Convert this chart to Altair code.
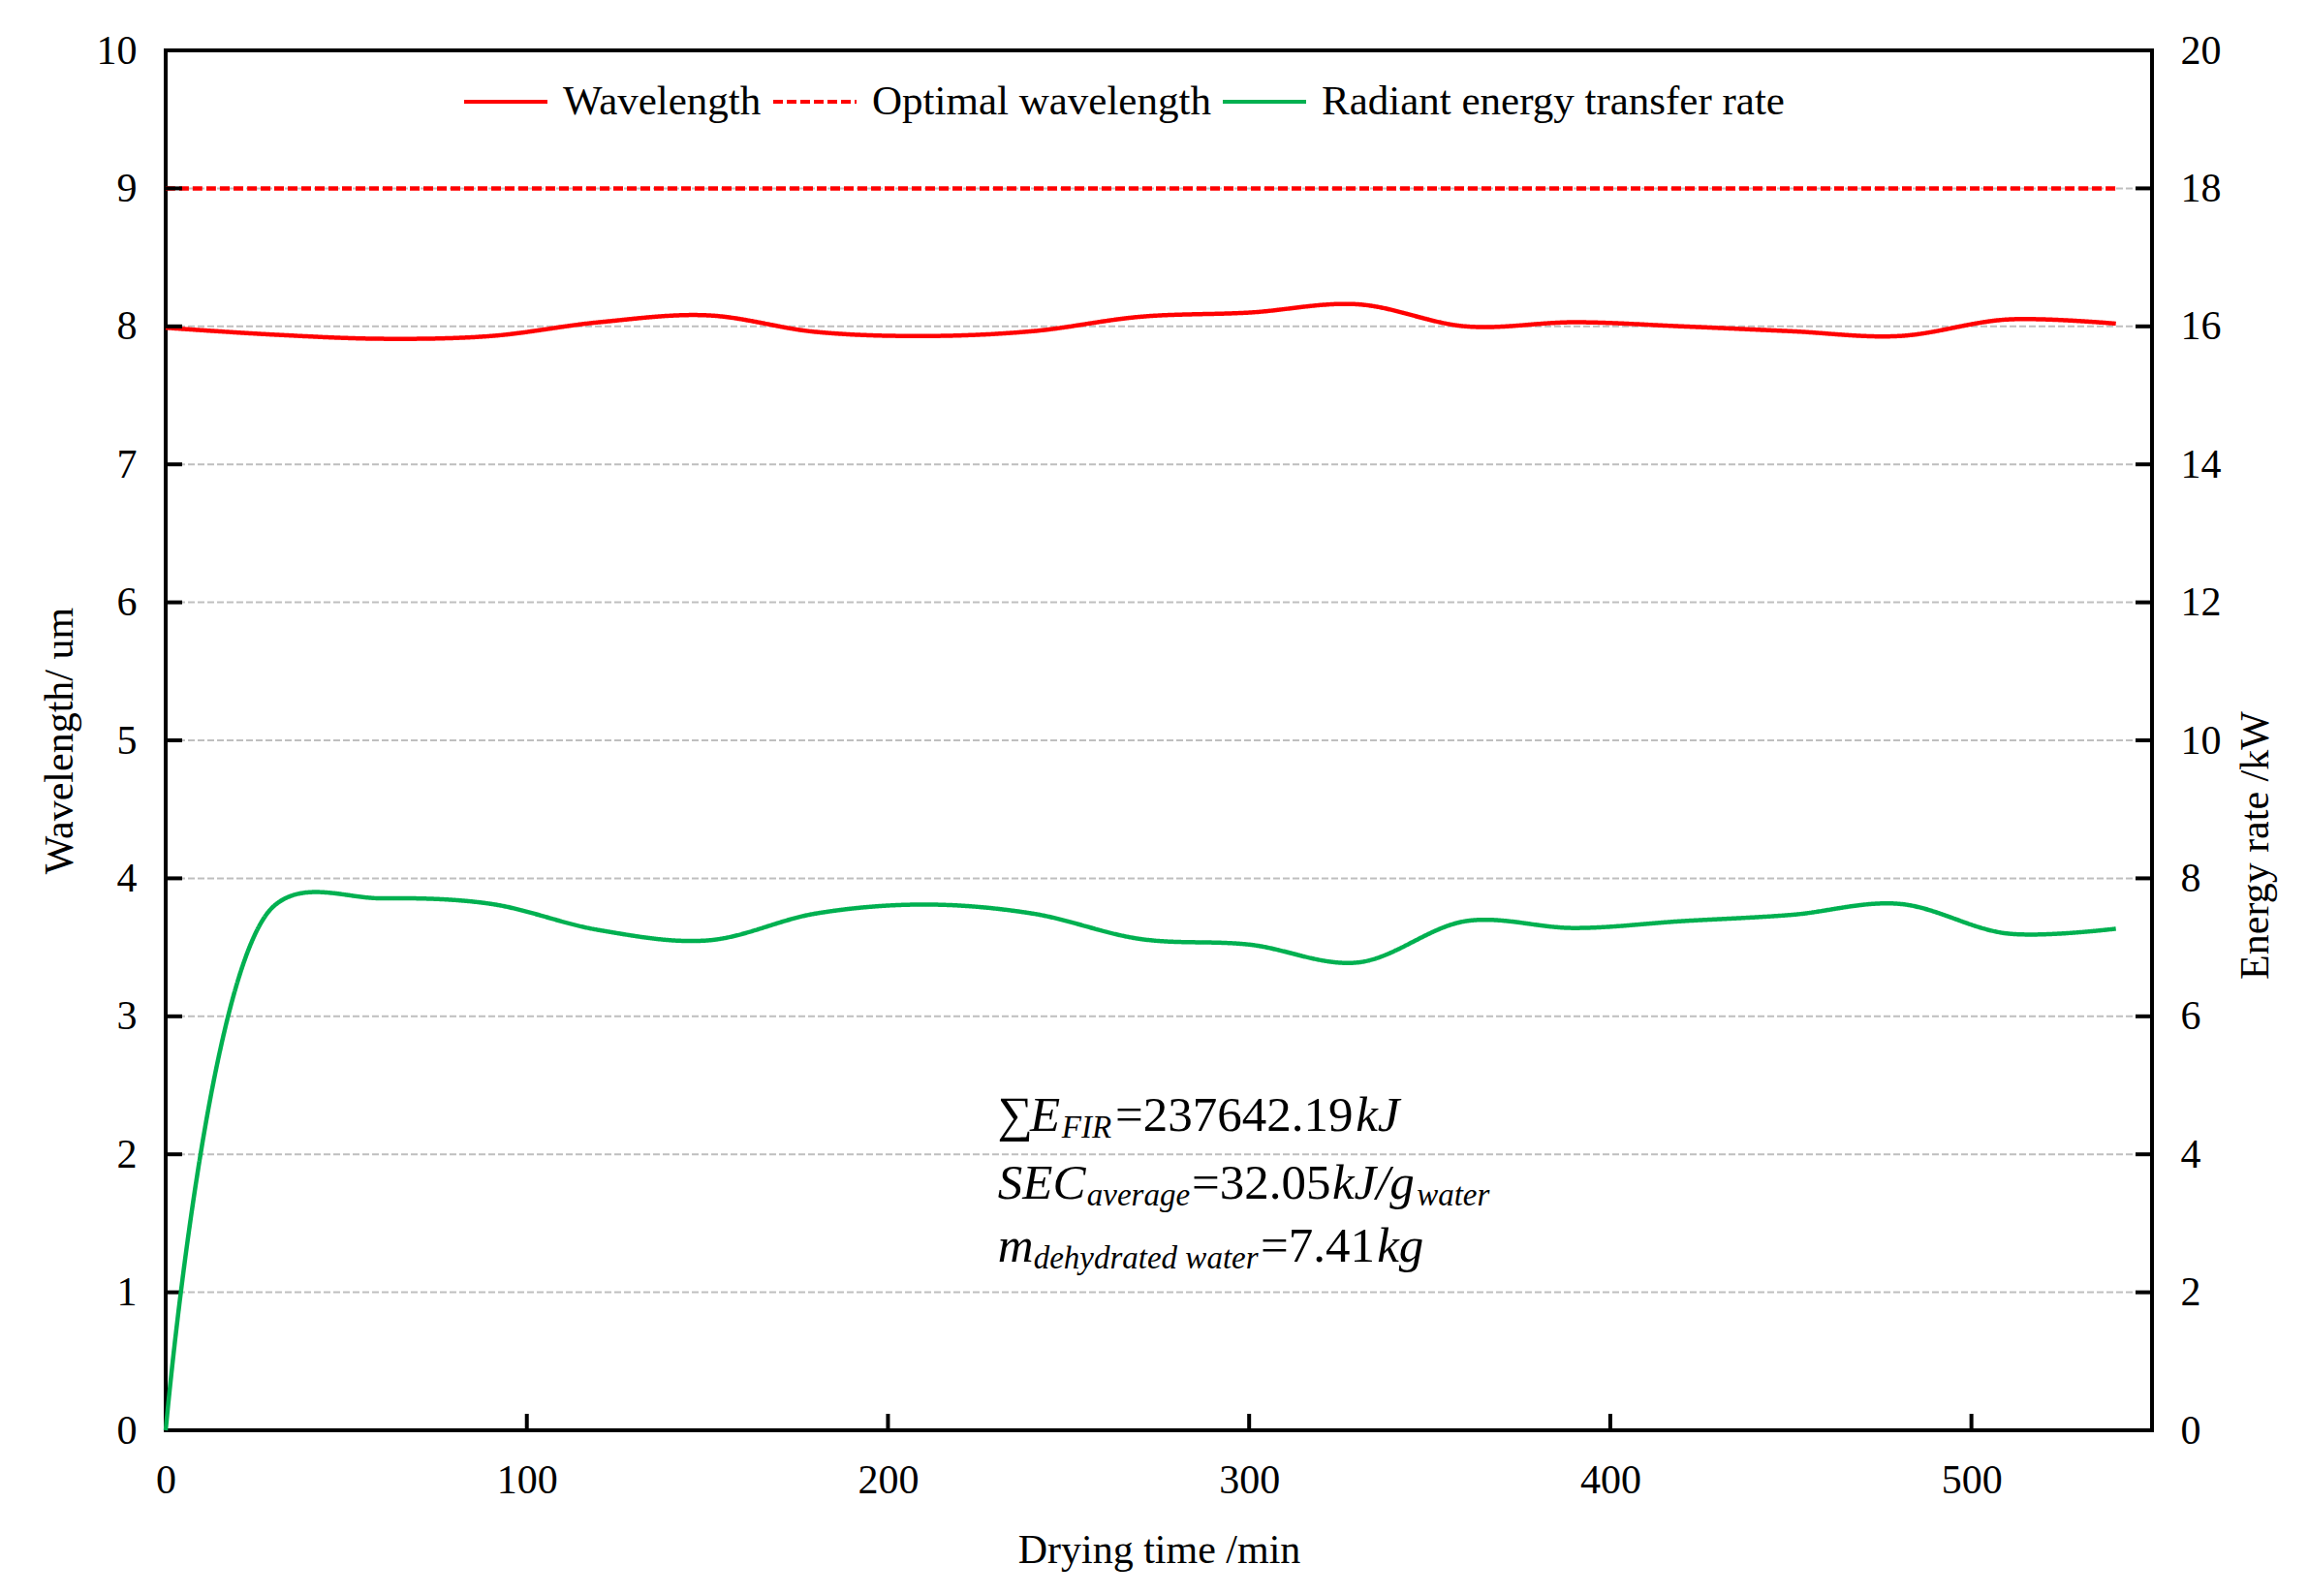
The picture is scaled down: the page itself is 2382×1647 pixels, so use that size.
import altair as alt
import pandas as pd

# ---------------- data ----------------
time_min = [0, 30, 60, 90, 120, 150, 180, 210, 240, 270, 300, 330, 360, 390, 420, 450, 480, 510, 540]
wavelength = [7.99, 7.94, 7.91, 7.93, 8.03, 8.08, 7.96, 7.93, 7.965, 8.07, 8.10, 8.16, 8.00, 8.03, 8.00, 7.965, 7.93, 8.05, 8.02]
optimal_wavelength = [9.0, 9.0, 9.0, 9.0, 9.0, 9.0, 9.0, 9.0, 9.0, 9.0, 9.0, 9.0, 9.0, 9.0, 9.0, 9.0, 9.0, 9.0, 9.0]
energy_rate = [0.0, 7.60, 7.71, 7.63, 7.25, 7.10, 7.49, 7.62, 7.49, 7.12, 7.04, 6.78, 7.38, 7.28, 7.38, 7.47, 7.63, 7.20, 7.27]

series_names = ["Wavelength", "Optimal wavelength", "Radiant energy transfer rate"]
series_colors = ["#FF0000", "#FF0000", "#00B050"]

x_ticks = [0, 100, 200, 300, 400, 500]
left_ticks = [0, 1, 2, 3, 4, 5, 6, 7, 8, 9, 10]
right_ticks = [0, 2, 4, 6, 8, 10, 12, 14, 16, 18, 20]
grid_values = [1, 2, 3, 4, 5, 6, 7, 8, 9]

# annotation runs: text, italic?, subscript?
note_runs = [
    [("∑", False, False), ("E", True, False), ("FIR", True, True), ("=237642.19", False, False), ("kJ", True, False)],
    [("SEC", True, False), ("average", True, True), ("=32.05", False, False), ("kJ/g", True, False), ("water", True, True)],
    [("m", True, False), ("dehydrated water", True, True), ("=7.41", False, False), ("kg", True, False)],
]
# start positions (minutes) of each run and baselines (wavelength units) of each line
note_starts = [
    [230.4, 239.3, 248.1, 262.9, 329.5],
    [230.4, 255.1, 284.1, 323.0, 346.4],
    [230.4, 240.3, 303.2, 335.4],
]
note_baselines = [2.168, 1.68, 1.224]

# ---------------- layout ----------------
W, H = 2050, 1424
SERIF = "Liberation Serif"
TICK = 17

wl_df = pd.DataFrame({
    "t": time_min * 2,
    "v": wavelength + optimal_wavelength,
    "series": ["Wavelength"] * len(time_min) + ["Optimal wavelength"] * len(time_min),
})
en_df = pd.DataFrame({"t": time_min, "e": energy_rate, "series": ["Radiant energy transfer rate"] * len(time_min)})

rows = []
for line, starts, base in zip(note_runs, note_starts, note_baselines):
    for (txt, ital, sub), xs in zip(line, starts):
        rows.append({"t": xs, "v": base - (0.05 if sub else 0.0), "txt": txt,
                     "fs": 33 if sub else 51, "ital": ital})
note_df = pd.DataFrame(rows)

x_scale = alt.Scale(domain=[0, 550], nice=False, zero=True)
x_axis = alt.Axis(values=x_ticks, title="Drying time /min", grid=False, labelFlush=False,
                  labelPadding=31, titleY=123, titleBaseline="middle")
yl_scale = alt.Scale(domain=[0, 10], nice=False)
yl_axis = alt.Axis(values=left_ticks, grid=False, title="Wavelength/ um",
                   labelPadding=30, titleAngle=270, titleX=-110, titleY=H / 2,
                   titleBaseline="middle", titleAlign="center")
yr_scale = alt.Scale(domain=[0, 20], nice=False)
yr_axis = alt.Axis(orient="right", values=right_ticks, grid=False, title="Energy rate /kW",
                   labelPadding=29, titleAngle=270, titleX=106, titleY=820,
                   titleBaseline="middle", titleAlign="center")

X = alt.X("t:Q", scale=x_scale, axis=x_axis)
YL = alt.Y("v:Q", scale=yl_scale, axis=yl_axis)

legend = alt.Legend(orient="none", legendX=306, legendY=8, direction="horizontal", title=None,
                    symbolType="stroke", symbolSize=7396, symbolStrokeWidth=4,
                    labelFont=SERIF, labelFontSize=43, labelColor="black", labelOffset=14,
                    columnPadding=4, labelLimit=0)
color = alt.Color("series:N", scale=alt.Scale(domain=series_names, range=series_colors), legend=legend)
dash = alt.StrokeDash("series:N", scale=alt.Scale(domain=series_names, range=[[1, 0], [10, 4], [1, 0]]), legend=legend)

grid = alt.Chart(pd.DataFrame({"v": grid_values})).mark_rule(
    color="#BFBFBF", strokeWidth=2, strokeDash=[7, 3]).encode(y=YL)

wl_lines = alt.Chart(wl_df).mark_line(strokeWidth=4.5, interpolate="catmull-rom").encode(
    x=X, y=YL, color=color, strokeDash=dash)

lt_df = pd.DataFrame({"v": left_ticks})
ticks_left = alt.Chart(lt_df).mark_rule(color="black", strokeWidth=4).encode(
    y=YL, x=alt.value(0), x2=alt.value(TICK))
ticks_right = alt.Chart(lt_df).mark_rule(color="black", strokeWidth=4).encode(
    y=YL, x=alt.value(W - TICK), x2=alt.value(W))
ticks_bottom = alt.Chart(pd.DataFrame({"t": x_ticks[1:]})).mark_rule(color="black", strokeWidth=4).encode(
    x=X, y=alt.value(H - TICK), y2=alt.value(H))

notes_normal = alt.Chart(note_df[~note_df["ital"]]).mark_text(
    font=SERIF, align="left", baseline="alphabetic", color="black").encode(
    x=X, y=YL, text="txt:N", size=alt.Size("fs:Q", scale=None))
notes_italic = alt.Chart(note_df[note_df["ital"]]).mark_text(
    font=SERIF, fontStyle="italic", align="left", baseline="alphabetic", color="black").encode(
    x=X, y=YL, text="txt:N", size=alt.Size("fs:Q", scale=None))

left = alt.layer(grid, wl_lines, ticks_left, ticks_right, ticks_bottom, notes_normal, notes_italic)

energy = alt.Chart(en_df).mark_line(strokeWidth=4.5, interpolate="catmull-rom").encode(
    x=X, y=alt.Y("e:Q", scale=yr_scale, axis=yr_axis), color=color, strokeDash=dash)

chart = alt.layer(left, energy).resolve_scale(y="independent").properties(
    width=W, height=H,
    padding={"left": 163, "top": 44, "right": 150, "bottom": 160},
    autosize=alt.AutoSizeParams(type="none"),
    background="white",
).configure_view(stroke="black", strokeWidth=4).configure_axis(
    labelFont=SERIF, titleFont=SERIF, labelFontSize=42, titleFontSize=42,
    labelColor="black", titleColor="black", titleFontWeight="normal",
    domain=False, ticks=False, tickSize=0,
)

chart.save("out.html", embed_options={"renderer": "svg", "actions": False})
